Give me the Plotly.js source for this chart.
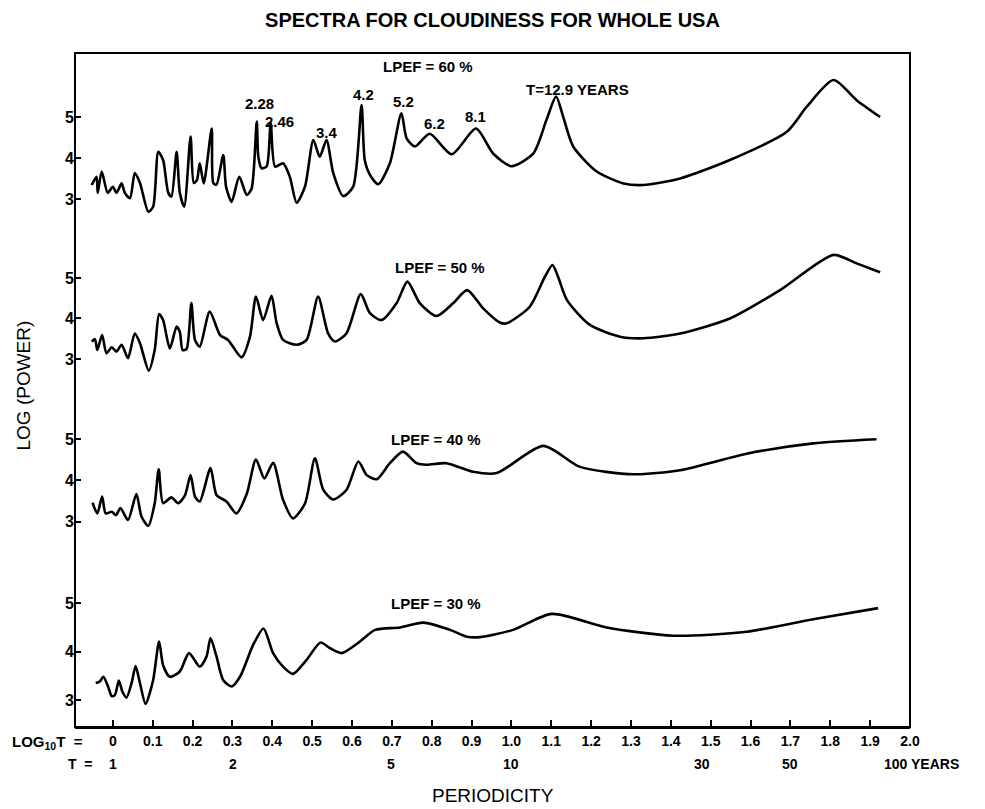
<!DOCTYPE html>
<html>
<head>
<meta charset="utf-8">
<script src="https://cdn.plot.ly/plotly-3.0.1.min.js"></script>
<style>
  html, body { margin: 0; padding: 0; background: #ffffff; }
  #chart { width: 985px; height: 809px; }
</style>
</head>
<body>
<div id="chart"></div>
<script>
// ---- DATA (x = log10 T, y = log power) ----
const x60 = [-0.053,-0.041,-0.038,-0.028,-0.013,0.000,0.009,0.022,0.030,0.043,0.055,0.068,0.089,0.101,0.114,0.126,0.139,0.147,0.160,0.168,0.179,0.195,0.203,0.211,0.218,0.228,0.248,0.252,0.260,0.277,0.284,0.298,0.317,0.336,0.348,0.361,0.365,0.373,0.386,0.396,0.407,0.427,0.444,0.461,0.482,0.503,0.519,0.536,0.553,0.578,0.603,0.624,0.632,0.645,0.666,0.695,0.724,0.737,0.758,0.795,0.850,0.911,0.954,1.000,1.055,1.088,1.112,1.130,1.155,1.214,1.281,1.331,1.423,1.548,1.691,1.741,1.808,1.866,1.925];
const y60 = [3.34,3.54,3.15,3.67,3.15,3.30,3.15,3.38,3.15,3.02,3.63,3.39,2.69,2.81,4.15,3.95,3.15,3.06,4.15,3.15,2.81,4.52,3.39,3.46,3.87,3.38,4.72,3.39,3.35,4.07,3.30,2.93,3.54,3.10,3.25,4.89,4.03,3.75,3.80,4.85,3.79,3.87,3.54,2.91,3.30,4.44,4.03,4.44,3.63,3.07,3.30,5.29,3.95,3.59,3.36,3.87,5.09,4.48,4.28,4.59,4.09,4.72,4.11,3.80,4.11,4.93,5.50,5.00,4.28,3.67,3.38,3.34,3.50,3.95,4.64,5.25,5.90,5.41,5.00];

const x50 = [-0.053,-0.045,-0.039,-0.027,-0.016,-0.003,0.009,0.022,0.038,0.055,0.068,0.090,0.105,0.116,0.126,0.143,0.160,0.168,0.175,0.185,0.197,0.206,0.218,0.243,0.269,0.289,0.323,0.344,0.359,0.377,0.398,0.411,0.427,0.461,0.486,0.515,0.540,0.557,0.586,0.622,0.645,0.674,0.712,0.739,0.770,0.812,0.854,0.889,0.929,0.971,0.988,1.046,1.084,1.103,1.117,1.139,1.197,1.272,1.331,1.423,1.548,1.674,1.808,1.866,1.925];
const y50 = [3.43,3.49,3.22,3.59,3.14,3.29,3.18,3.35,3.02,3.63,3.39,2.71,3.22,4.11,3.96,3.26,3.80,3.67,3.22,3.25,4.38,3.47,3.30,4.17,3.59,3.47,3.04,3.55,4.54,3.96,4.56,3.88,3.47,3.35,3.47,4.54,3.63,3.43,3.63,4.60,4.13,3.96,4.38,4.91,4.38,4.06,4.38,4.70,4.25,3.90,3.88,4.29,5.03,5.32,5.03,4.46,3.84,3.55,3.51,3.63,4.00,4.70,5.57,5.36,5.14];

const x40 = [-0.051,-0.039,-0.027,-0.018,-0.003,0.008,0.019,0.038,0.059,0.072,0.089,0.105,0.115,0.126,0.147,0.164,0.181,0.195,0.206,0.218,0.245,0.260,0.285,0.310,0.336,0.359,0.380,0.402,0.427,0.452,0.482,0.507,0.528,0.553,0.586,0.616,0.637,0.662,0.695,0.728,0.762,0.787,0.837,0.904,0.963,1.080,1.172,1.306,1.423,1.590,1.757,1.916];
const y40 = [3.46,3.20,3.61,3.20,3.24,3.16,3.33,3.04,3.67,3.12,2.90,3.45,4.27,3.45,3.59,3.45,3.64,4.13,3.61,3.49,4.30,3.65,3.49,3.20,3.68,4.51,4.05,4.43,3.53,3.08,3.44,4.54,3.77,3.54,3.77,4.46,4.13,4.03,4.42,4.70,4.42,4.38,4.42,4.21,4.18,4.84,4.33,4.15,4.25,4.65,4.90,5.00];

const x30 = [-0.043,-0.033,-0.024,-0.012,-0.003,0.005,0.015,0.024,0.034,0.047,0.057,0.068,0.082,0.101,0.116,0.126,0.143,0.168,0.191,0.218,0.235,0.245,0.260,0.277,0.298,0.319,0.352,0.378,0.402,0.427,0.452,0.486,0.521,0.545,0.574,0.620,0.658,0.720,0.779,0.846,0.888,0.921,1.004,1.101,1.239,1.406,1.590,1.757,1.920];
const y30 = [3.35,3.38,3.48,3.28,3.08,3.10,3.40,3.17,3.05,3.35,3.70,3.35,2.92,3.41,4.21,3.72,3.48,3.59,3.97,3.69,3.90,4.28,3.90,3.41,3.28,3.48,4.14,4.48,3.97,3.69,3.54,3.83,4.19,4.07,3.97,4.21,4.45,4.50,4.60,4.45,4.31,4.30,4.45,4.78,4.50,4.33,4.41,4.67,4.90];

const xTickVals = [0,0.1,0.2,0.3,0.4,0.5,0.6,0.7,0.8,0.9,1.0,1.1,1.2,1.3,1.4,1.5,1.6,1.7,1.8,1.9,2.0];
const xTickText = ["0","0.1","0.2","0.3","0.4","0.5","0.6","0.7","0.8","0.9","1.0","1.1","1.2","1.3","1.4","1.5","1.6","1.7","1.8","1.9","2.0"];
const periodYears = [1,2,5,10,30,50,100];
const periodText = ["1","2","5","10","30","50","100 YEARS"];
const yTickVals = [3,4,5];
const lpefLabels = ["LPEF = 60 %","LPEF = 50 %","LPEF = 40 %","LPEF = 30 %"];
const peakLabels = ["2.28","2.46","3.4","4.2","5.2","6.2","8.1","T=12.9 YEARS"];

// ---- STYLE ----
const FONT = "Liberation Sans, Arial, sans-serif";
const INK = "#000000";
const lineStyle = {color: INK, width: 2.6, shape: "spline", smoothing: 0.7};

const traces = [
  {x: x60, y: y60, xaxis: "x", yaxis: "y",  mode: "lines", line: lineStyle, hoverinfo: "skip"},
  {x: x50, y: y50, xaxis: "x", yaxis: "y2", mode: "lines", line: lineStyle, hoverinfo: "skip"},
  {x: x40, y: y40, xaxis: "x", yaxis: "y3", mode: "lines", line: lineStyle, hoverinfo: "skip"},
  {x: x30, y: y30, xaxis: "x", yaxis: "y4", mode: "lines", line: lineStyle, hoverinfo: "skip"}
];

function yAx(domain, range) {
  return {
    domain: domain, range: range, anchor: "x",
    tickmode: "array", tickvals: yTickVals,
    ticks: "inside", ticklen: 6, tickwidth: 2, tickcolor: INK,
    showline: false, showgrid: false, zeroline: false,
    tickfont: {family: FONT, size: 16, color: INK, weight: "bold"},
    fixedrange: true
  };
}

const annotations = [];
// LPEF panel labels
const lpefPos = [
  {yref: "y",  x: 0.79, y: 6.22},
  {yref: "y2", x: 0.82, y: 5.25},
  {yref: "y3", x: 0.81, y: 5.0},
  {yref: "y4", x: 0.81, y: 5.0}
];
lpefLabels.forEach((t, i) => annotations.push({
  text: t, xref: "x", yref: lpefPos[i].yref, x: lpefPos[i].x, y: lpefPos[i].y,
  showarrow: false, font: {family: FONT, size: 15, color: INK, weight: "bold"}
}));
// Peak labels in top panel
const peakPos = [
  {x: 0.369, y: 5.34}, {x: 0.418, y: 4.90}, {x: 0.536, y: 4.63}, {x: 0.629, y: 5.54},
  {x: 0.729, y: 5.37}, {x: 0.806, y: 4.85}, {x: 0.911, y: 5.00}, {x: 1.166, y: 5.68}
];
peakLabels.forEach((t, i) => annotations.push({
  text: t, xref: "x", yref: "y", x: peakPos[i].x, y: peakPos[i].y,
  showarrow: false, font: {family: FONT, size: 15, color: INK, weight: "bold"}
}));
// Period (T) row
periodYears.forEach((T, i) => {
  const last = i === periodYears.length - 1;
  annotations.push({
    text: periodText[i], xref: "x", yref: "paper", x: Math.log10(T), y: 0,
    yshift: -37, yanchor: "middle", xanchor: last ? "left" : "center", xshift: last ? -28 : 0,
    showarrow: false, font: {family: FONT, size: 14, color: INK, weight: "bold"}
  });
});
// Row captions
annotations.push({
  text: "LOG<sub>10</sub>T  =", xref: "paper", yref: "paper", x: -0.078, y: 0, xanchor: "left",
  yshift: -15, yanchor: "middle", showarrow: false,
  font: {family: FONT, size: 15, color: INK, weight: "bold"}
});
annotations.push({
  text: "T  =", xref: "paper", yref: "paper", x: 0, y: 0, xanchor: "right", xshift: 20,
  yshift: -37, yanchor: "middle", showarrow: false,
  font: {family: FONT, size: 14, color: INK, weight: "bold"}
});
// Y title
annotations.push({
  text: "LOG (POWER)", xref: "paper", yref: "paper", x: -0.062, y: 0.507, textangle: -90,
  xanchor: "center", yanchor: "middle", showarrow: false,
  font: {family: FONT, size: 19, color: INK}
});
// X title
annotations.push({
  text: "PERIODICITY", xref: "paper", yref: "paper", x: 0.5, y: 0, xanchor: "center",
  yshift: -68, yanchor: "middle", showarrow: false,
  font: {family: FONT, size: 19, color: INK}
});

const layout = {
  width: 985, height: 809,
  margin: {l: 75, r: 75, t: 53, b: 82},
  paper_bgcolor: "#ffffff", plot_bgcolor: "#ffffff",
  showlegend: false,
  title: {text: "SPECTRA FOR CLOUDINESS FOR WHOLE USA", x: 0.5, xanchor: "center", y: 0.975, yanchor: "middle",
          font: {family: FONT, size: 20, color: INK, weight: "bold"}},
  xaxis: {
    anchor: "y4", range: [-0.095, 2.0],
    tickmode: "array", tickvals: xTickVals, ticktext: xTickText,
    ticks: "inside", ticklen: 7, tickwidth: 2, tickcolor: INK,
    showline: true, linewidth: 2, linecolor: INK,
    showgrid: false, zeroline: false,
    tickfont: {family: FONT, size: 14, color: INK, weight: "bold"},
    fixedrange: true
  },
  yaxis:  yAx([0.7374, 1], [2.244, 6.56]),
  yaxis2: yAx([0.4926, 0.7374], [2.11, 6.185]),
  yaxis3: yAx([0.2404, 0.4926], [1.949, 6.075]),
  yaxis4: yAx([0, 0.2404], [2.442, 5.792]),
  shapes: [{type: "rect", xref: "paper", yref: "paper", x0: 0, x1: 1, y0: 0, y1: 1,
            line: {color: INK, width: 2}, fillcolor: "rgba(0,0,0,0)"}],
  annotations: annotations
};

Plotly.newPlot("chart", traces, layout, {staticPlot: true, displayModeBar: false});
</script>
</body>
</html>
